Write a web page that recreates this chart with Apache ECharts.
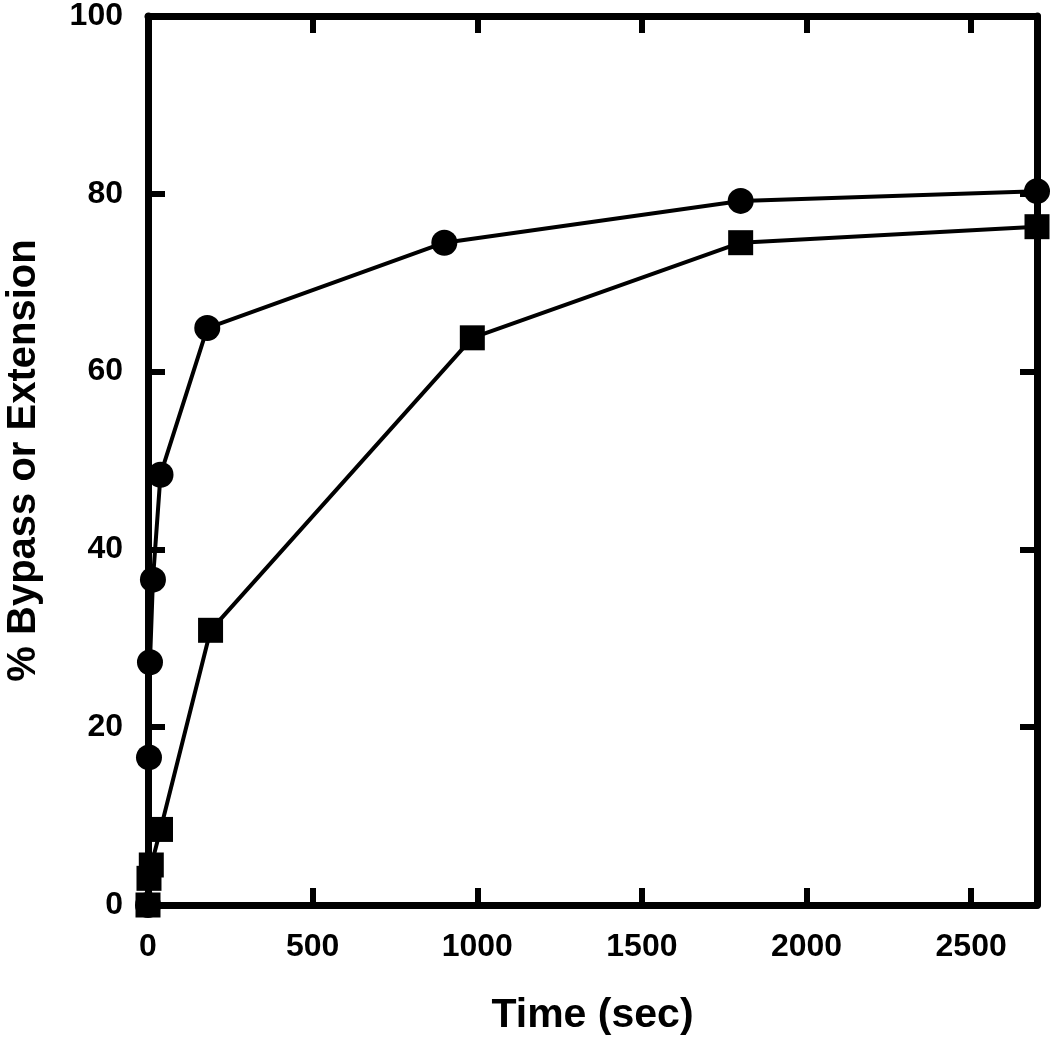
<!DOCTYPE html>
<html><head><meta charset="utf-8">
<script src="https://cdn.jsdelivr.net/npm/echarts@6/dist/echarts.min.js"></script>
<style>html,body{margin:0;padding:0;background:#fff}#c{width:1050px;height:1050px}</style>
</head><body><div id="c"></div>
<script>
const circleTime = [0, 3, 6, 15, 38, 180, 900, 1800, 2700];
const circleVal  = [0, 16.6, 27.3, 36.6, 48.4, 64.9, 74.5, 79.2, 80.3];
const squareTime = [0, 3, 10, 38, 190, 985, 1800, 2700];
const squareVal  = [0, 3.0, 4.5, 8.5, 30.9, 63.8, 74.5, 76.3];
const xTicks = [0, 500, 1000, 1500, 2000, 2500];
const yTicks = [0, 20, 40, 60, 80, 100];
const xTitle = 'Time (sec)';
const yTitle = '% Bypass or Extension';

const FONT = '"Liberation Sans", Arial, sans-serif';
const chart = echarts.init(document.getElementById('c'));
const axisLine = {show: true, onZero: false, lineStyle: {color: '#000', width: 7}};
const tick = {show: true, inside: true, length: 17, lineStyle: {color: '#000', width: 6}};
const lbl = {color: '#000', fontSize: 32, fontWeight: 'bold', fontFamily: FONT};
chart.setOption({
  animation: false,
  grid: {left: 148, right: 13, top: 16, bottom: 145, containLabel: false, outerBoundsMode: 'none'},
  xAxis: [{
    type: 'value', min: xTicks[0], max: 2700, interval: 500, position: 'bottom',
    axisLine, axisTick: tick, splitLine: {show: false},
    axisLabel: Object.assign({margin: 26, formatter: v => xTicks.includes(v) ? String(v) : ''}, lbl),
    name: xTitle, nameLocation: 'middle', nameGap: 90,
    nameTextStyle: {color: '#000', fontSize: 41, fontWeight: 'bold', fontFamily: FONT}
  }, {
    type: 'value', min: 0, max: 2700, interval: 500, position: 'top',
    axisLine, axisTick: tick, axisLabel: {show: false}, splitLine: {show: false}
  }],
  yAxis: [{
    type: 'value', min: yTicks[0], max: 100, interval: 20, position: 'left',
    axisLine, axisTick: tick, splitLine: {show: false},
    axisLabel: Object.assign({margin: 25}, lbl),
    name: yTitle, nameLocation: 'middle', nameGap: 104, nameRotate: 90,
    nameTextStyle: {color: '#000', fontSize: 40, fontWeight: 'bold', fontFamily: FONT}
  }, {
    type: 'value', min: 0, max: 100, interval: 20, position: 'right',
    axisLine, axisTick: tick, axisLabel: {show: false}, splitLine: {show: false}
  }],
  series: [{
    type: 'line', data: squareTime.map((t, i) => [t, squareVal[i]]),
    symbol: 'rect', symbolSize: 25, showAllSymbol: true, clip: false,
    lineStyle: {color: '#000', width: 4}, itemStyle: {color: '#000'}, z: 3
  }, {
    type: 'line', data: circleTime.map((t, i) => [t, circleVal[i]]),
    symbol: 'circle', symbolSize: 26, showAllSymbol: true, clip: false,
    lineStyle: {color: '#000', width: 4}, itemStyle: {color: '#000'}, z: 4
  }]
});
</script></body></html>
